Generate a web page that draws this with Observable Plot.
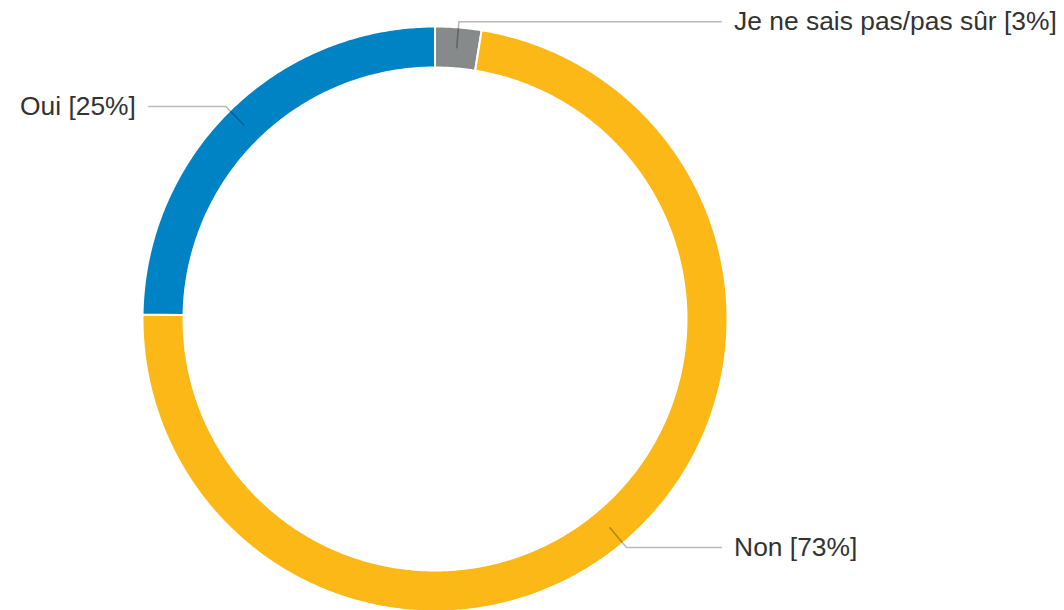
<!DOCTYPE html>
<html>
<head>
<meta charset="utf-8">
<script src="https://cdn.jsdelivr.net/npm/d3@7"></script>
<script src="https://cdn.jsdelivr.net/npm/@observablehq/plot@0.6"></script>
<style>
  html, body { margin: 0; padding: 0; background: #fff; }
  #chart svg { display: block; }
</style>
</head>
<body>
<div id="chart"></div>
<script>
// ---- data ----
const categories = ["Je ne sais pas/pas sûr", "Non", "Oui"];
const values = [2.55, 72.7, 24.75];           // share of answers, %, clockwise from 12 o'clock
const colors = ["#878a8a", "#fbb817", "#0083c5"];

// ---- layout constants (units of outer radius) ----
const W = 1064, H = 610;
const cxPx = 434.5, cyPx = 318.5, Rpx = 291.5;
const rOuter = 292.5 / 291.5, rInner = 251.5 / 291.5;
const rLeadStart = 0.934, rElbow = 1.023;
const lineEndX = 0.982, textX = 1.026;

const total = d3.sum(values);
let acc = 0;
const slices = categories.map((name, i) => {
  const a0 = acc / total * 2 * Math.PI;
  acc += values[i];
  const a1 = acc / total * 2 * Math.PI;
  return {name, value: values[i], a0, a1, mid: (a0 + a1) / 2};
});

const px = (r, a) => r * Math.sin(a);
const py = (r, a) => r * Math.cos(a);

// ring polygons
const ringPts = [];
for (const s of slices) {
  const n = Math.max(2, Math.ceil((s.a1 - s.a0) / (Math.PI / 360)));
  const pts = [];
  for (let k = 0; k <= n; k++) {
    const a = s.a0 + (s.a1 - s.a0) * k / n;
    pts.push({name: s.name, x: px(rOuter, a), y: py(rOuter, a)});
  }
  for (let k = n; k >= 0; k--) {
    const a = s.a0 + (s.a1 - s.a0) * k / n;
    pts.push({name: s.name, x: px(rInner, a), y: py(rInner, a)});
  }
  pts.push({...pts[0]});
  ringPts.push(...pts);
}

// leader lines and labels
const leaderPts = [];
const labelRows = [];
for (const s of slices) {
  const right = Math.sin(s.mid) >= 0;
  const ey = py(rElbow, s.mid);
  leaderPts.push({name: s.name, x: px(rLeadStart, s.mid), y: py(rLeadStart, s.mid)});
  leaderPts.push({name: s.name, x: px(rElbow, s.mid), y: ey});
  leaderPts.push({name: s.name, x: right ? lineEndX : -lineEndX, y: ey});
  labelRows.push({
    text: `${s.name} [${Math.round(s.value / total * 100)}%]`,
    x: right ? textX : -textX, y: ey, anchor: right ? "start" : "end"
  });
}

const chart = Plot.plot({
  width: W, height: H,
  margin: 0,
  style: {background: "#fff", fontFamily: "'Liberation Sans', Arial, sans-serif"},
  x: {domain: [-cxPx / Rpx, (W - cxPx) / Rpx], range: [0, W], axis: null},
  y: {domain: [-(H - cyPx) / Rpx, cyPx / Rpx], range: [H, 0], axis: null},
  color: {domain: categories, range: colors},
  marks: [
    Plot.line(ringPts, {x: "x", y: "y", z: "name", fill: "name", stroke: "#fff", strokeWidth: 2, curve: "linear"}),
    Plot.line(leaderPts, {x: "x", y: "y", z: "name", stroke: "#000", strokeOpacity: 0.27, strokeWidth: 1.6}),
    Plot.text(labelRows.filter(d => d.anchor === "start"), {x: "x", y: "y", text: "text", textAnchor: "start", fontSize: 26.4, fill: "#333"}),
    Plot.text(labelRows.filter(d => d.anchor === "end"), {x: "x", y: "y", text: "text", textAnchor: "end", fontSize: 26.4, fill: "#333"})
  ]
});
document.getElementById("chart").appendChild(chart);
</script>
</body>
</html>
